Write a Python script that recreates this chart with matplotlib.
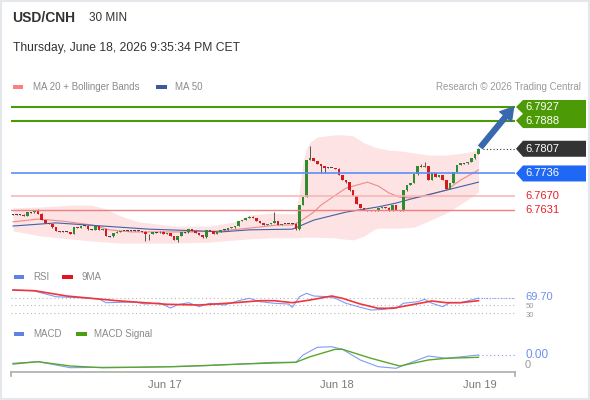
import matplotlib
matplotlib.use("Agg")
import matplotlib.pyplot as plt
from matplotlib.patches import Rectangle, Polygon
import numpy as np

plt.rcParams['font.family'] = ['Liberation Sans', 'DejaVu Sans']

# ---- values: USD/CNH, 30 min candles ----
first_open = 6.7618
closes = [
    6.7618, 6.7617, 6.7618, 6.7615, 6.7625, 6.7624, 6.7628, 6.7620, 6.7602, 6.7594,
    6.7591, 6.7581, 6.7571, 6.7569, 6.7569, 6.7568, 6.7562, 6.7582, 6.7579, 6.7585,
    6.7586, 6.7576, 6.7575, 6.7585, 6.7574, 6.7576, 6.7556, 6.7555, 6.7565, 6.7569,
    6.7571, 6.7571, 6.7572, 6.7571, 6.7572, 6.7571, 6.7569, 6.7562, 6.7562, 6.7568,
    6.7567, 6.7569, 6.7562, 6.7565, 6.7556, 6.7545, 6.7556, 6.7568, 6.7567, 6.7576,
    6.7571, 6.7565, 6.7559, 6.7553, 6.7574, 6.7571, 6.7562, 6.7568, 6.7574, 6.7575,
    6.7579, 6.7581, 6.7585, 6.7599, 6.7602, 6.7608, 6.7612, 6.7608, 6.7599, 6.7594,
    6.7588, 6.7591, 6.7594, 6.7599, 6.7588, 6.7591, 6.7591, 6.7591, 6.7592, 6.7576,
    6.7645, 6.7668, 6.7775, 6.7780, 6.7772, 6.7763, 6.7757, 6.7753, 6.7752, 6.7752,
    6.7750, 6.7732, 6.7717, 6.7711, 6.7688, 6.7671, 6.7648, 6.7637, 6.7631, 6.7628,
    6.7630, 6.7628, 6.7637, 6.7640, 6.7638, 6.7628, 6.7645, 6.7631, 6.7628, 6.7688,
    6.7703, 6.7709, 6.7734, 6.7757, 6.7755, 6.7757, 6.7717, 6.7737, 6.7726, 6.7732,
    6.7717, 6.7691, 6.7709, 6.7740, 6.7760, 6.7766, 6.7765, 6.7769, 6.7780, 6.7792,
    6.7807,
]
wick_highs = {7: 6.7634, 73: 6.7625, 83: 6.7815, 114: 6.7763, 115: 6.7769}
wick_lows = {37: 6.7542, 38: 6.7545, 46: 6.7539, 86: 6.7737, 87: 6.7737}

bb_idx = [0, 8, 16, 22, 26, 30, 35, 45, 55, 62, 66, 72, 78, 79, 80, 81, 82, 83, 85, 90,
          92, 95, 98, 101, 102, 105, 108, 112, 116, 121, 126, 130]
bb_upper = [6.7637, 6.7640, 6.7645, 6.7645, 6.7634, 6.7614, 6.7597, 6.7585, 6.7585, 6.7597,
            6.7617, 6.7622, 6.7620, 6.7622, 6.7688, 6.7769, 6.7809, 6.7826, 6.7841, 6.7847,
            6.7847, 6.7844, 6.7824, 6.7812, 6.7809, 6.7803, 6.7801, 6.7795, 6.7789, 6.7789,
            6.7795, 6.7803]
bb_lower = [6.7571, 6.7556, 6.7548, 6.7542, 6.7539, 6.7536, 6.7536, 6.7536, 6.7539, 6.7545,
            6.7548, 6.7551, 6.7551, 6.7551, 6.7551, 6.7553, 6.7553, 6.7553, 6.7553, 6.7551,
            6.7548, 6.7545, 6.7556, 6.7576, 6.7579, 6.7579, 6.7579, 6.7582, 6.7599, 6.7622,
            6.7654, 6.7683]

ma20_idx = [0, 7, 14, 22, 27, 33, 50, 58, 66, 74, 78, 80, 84, 86, 93, 99, 102, 105, 108,
            112, 116, 121, 125, 130]
ma20 = [6.7597, 6.7605, 6.7599, 6.7588, 6.7574, 6.7568, 6.7568, 6.7571, 6.7579, 6.7588,
        6.7588, 6.7597, 6.7625, 6.7645, 6.7694, 6.7711, 6.7700, 6.7680, 6.7668, 6.7665,
        6.7674, 6.7688, 6.7717, 6.7746]
ma50_idx = [0, 12, 25, 38, 52, 58, 66, 78, 84, 93, 102, 107, 112, 121, 130]
ma50 = [6.7585, 6.7594, 6.7585, 6.7576, 6.7571, 6.7568, 6.7574, 6.7576, 6.7602, 6.7625,
        6.7640, 6.7651, 6.7665, 6.7688, 6.7711]

resistances = [6.7927, 6.7888]
pivot = 6.7736
supports = [6.7670, 6.7631]
last_price = 6.7807

rsi_idx = [0, 6, 8, 12, 20, 24, 26, 34, 37, 41, 44, 46, 49, 52, 55, 59, 63, 66, 69, 73,
           77, 78, 80, 82, 84, 88, 90, 93, 97, 100, 104, 106, 107, 109, 113, 115, 117, 120,
           122, 125, 128, 130]
rsi = [91.3, 89.0, 83.3, 73.5, 70.0, 67.3, 57.5, 59.3, 54.0, 56.7, 43.3, 52.1, 57.5, 46.8,
       55.9, 51.3, 62.8, 69.2, 60.1, 55.9, 54.0, 45.2, 73.5, 82.5, 75.3, 73.5, 69.2, 55.9,
       45.2, 38.0, 39.9, 45.2, 42.5, 55.9, 60.1, 66.5, 55.9, 46.8, 57.5, 57.5, 64.7, 69.7]
rsi_ma_idx = [0, 6, 15, 24, 29, 34, 43, 52, 61, 69, 73, 78, 83, 89, 92, 97, 102, 106, 111,
              117, 121, 125, 130]
rsi_ma = [91.3, 89.5, 75.3, 67.3, 62.8, 59.3, 53.2, 51.3, 56.7, 62.8, 62.8, 57.5, 64.7,
          75.3, 69.2, 54.0, 42.5, 42.5, 51.3, 62.0, 57.5, 57.5, 62.8]
rsi_last = 69.70
rsi_levels = [70, 50, 30]

macd_idx = [0, 7, 16, 25, 35, 54, 64, 73, 79, 81, 85, 89, 92, 97, 102, 107, 111, 116, 121, 130]
macd = [0.85e-4, 1.65e-4, -1.35e-4, -1.15e-4, -1.15e-4, -0.35e-4, 0.5e-4, 1.35e-4, 1.35e-4,
        5.0e-4, 8.85e-4, 9.15e-4, 7.85e-4, 2.5e-4, -0.85e-4, -1.65e-4, 1.15e-4, 4.5e-4,
        3.35e-4, 5.0e-4]
signal_idx = [0, 7, 16, 25, 45, 64, 79, 83, 90, 92, 100, 108, 116, 121, 130]
signal = [0.5e-4, 1.65e-4, -0.5e-4, -1.35e-4, -0.85e-4, 0.5e-4, 1.35e-4, 4.15e-4, 7.85e-4,
          7.85e-4, 3.35e-4, -0.5e-4, 2.5e-4, 3.35e-4, 3.85e-4]
macd_last = 5.0e-4

day_ticks = [42.5, 90.5, 130.4]
day_labels = ['Jun 17', 'Jun 18', 'Jun 19']

W, H = 590, 400
XL = (-0.56, 140.2)
fig = plt.figure(figsize=(W / 100, H / 100), dpi=100)
fig.patch.set_facecolor('white')


def panel(x0, y0, x1, y1):
    # box given in image pixels (top-left origin)
    ax = fig.add_axes([x0 / W, 1 - y1 / H, (x1 - x0) / W, (y1 - y0) / H])
    ax.set_facecolor('none')
    for s in ax.spines.values():
        s.set_visible(False)
    ax.set_xticks([])
    ax.set_yticks([])
    ax.set_xlim(*XL)
    return ax


def img_y(ax, v):
    return H - ax.transData.transform((0, v))[1]


green_c, red_c = '#2e8b2e', '#d7191c'
lvl_green = '#4c9a06'

# ---- price panel ----
pax = panel(11, 100, 515, 250)
pax.set_ylim(6.75161, 6.79471)
pax.fill_between(bb_idx, bb_lower, bb_upper, color='#fde3e3', lw=0, zorder=1)
pax.plot(ma20_idx, ma20, color='#f08a8a', lw=0.8, zorder=2)
pax.plot(ma50_idx, ma50, color='#3f62a8', lw=0.8, zorder=2)

c = np.array(closes)
o = np.r_[first_open, c[:-1]]
idx = np.arange(len(c))
hi = np.maximum(o, c) + 0.0001
lo = np.minimum(o, c) - 0.0001
for k, v in wick_highs.items():
    hi[k] = v
for k, v in wick_lows.items():
    lo[k] = v
doji = np.abs(c - o) < 0.00015
body_h = np.where(doji, 0.00025, np.abs(c - o))
body_b = np.where(doji, (o + c) / 2 - 0.000125, np.minimum(o, c))
cols = np.where(doji, '#444444', np.where(c > o, green_c, red_c))
pax.vlines(idx, lo, hi, color='#555555', lw=0.7, zorder=4)
pax.bar(idx, body_h, bottom=body_b, width=0.72, color=cols, lw=0, zorder=5)

for r in resistances:
    pax.axhline(r, color=lvl_green, lw=1.5, zorder=6)
pax.axhline(pivot, color='#5b8ef5', lw=1.2, zorder=6)
pax.axhline(supports[0], color='#f7b3b3', lw=1.1, zorder=6)
pax.axhline(supports[1], color='#f07f7f', lw=1.0, zorder=6)
pax.hlines(last_price, len(c) + 0.3, XL[1], colors='#333333', linestyles=(0, (1, 2)), lw=0.8)
pax.annotate('', xy=(139.8, resistances[0]), xytext=(130.6, last_price + 0.0005),
             arrowprops=dict(arrowstyle='simple,head_width=1.1,head_length=0.9,tail_width=0.35',
                             color='#3868ad', mutation_scale=10, shrinkA=0, shrinkB=0),
             annotation_clip=False, zorder=7)

# ---- RSI panel ----
rax = panel(11, 285, 515, 320)
rax.set_ylim(11.3, 104.7)
for v in rsi_levels:
    rax.axhline(v, color='#b8b8b8', lw=0.8, ls=(0, (1, 2.5)))
rax.plot(rsi_idx, rsi, color='#7f9cf5', lw=0.8)
rax.plot(rsi_ma_idx, rsi_ma, color='#f0353b', lw=1.2)
rax.hlines(rsi_last, rsi_idx[-1], XL[1], colors='#7f9cf5', linestyles=(0, (1, 1.5)), lw=0.8)

# ---- MACD panel ----
mx = panel(11, 340, 515, 372)
mx.set_ylim(-0.00035, 0.00125)
mx.plot(macd_idx, macd, color='#7f9cf5', lw=0.8)
mx.plot(signal_idx, signal, color='#5aa628', lw=1.0)
mx.hlines(macd_last, macd_idx[-1], XL[1], colors='#7f9cf5', linestyles=(0, (1, 2.5)), lw=0.8)
mx.spines['bottom'].set_visible(True)
mx.spines['bottom'].set_color('#b3b3b3')
mx.spines['bottom'].set_linewidth(1.3)
mx.set_xticks(day_ticks, day_labels)
mx.tick_params(axis='x', length=0, pad=5.5, labelsize=8, labelcolor='#7a7a7a')

# ---- overlay: header, legends and level labels (image pixel coords) ----
ov = fig.add_axes([0, 0, 1, 1])
ov.set_xlim(0, W)
ov.set_ylim(H, 0)
ov.axis('off')
ov.patch.set_visible(False)

ov.add_patch(Rectangle((0.75, 0.75), W - 1.5, H - 1.5, fill=False, ec='#e4e7eb', lw=1.5))
ov.plot([11, 11], [371.5, 376], color='#b3b3b3', lw=1.3)
ov.plot([515, 515], [371.5, 376], color='#b3b3b3', lw=1.3)

ov.text(12, 18, 'USD/CNH', fontsize=10, weight='bold', color='#333333', va='center')
ov.text(89, 18, '30 MIN', fontsize=8.5, color='#333333', va='center')
ov.text(13, 48, 'Thursday, June 18, 2026 9:35:34 PM CET', fontsize=8.7, color='#333333',
        va='center')

legend_txt = dict(fontsize=7, color='#8a8a8a', va='center')
ov.add_patch(Rectangle((13, 84.5), 10, 4, color='#ff7f7f', lw=0))
ov.text(33, 86.5, 'MA 20 + Bollinger Bands', **legend_txt)
ov.add_patch(Rectangle((156, 84.5), 11, 4, color='#3a5b98', lw=0))
ov.text(175, 86.5, 'MA 50', **legend_txt)
ov.text(581, 86.5, 'Research \u00a9 2026 Trading Central', fontsize=7, color='#9a9a9a',
        va='center', ha='right')

ov.add_patch(Rectangle((14, 275), 10, 4, color='#5f82e6', lw=0))
ov.text(33, 277, 'RSI', **legend_txt)
ov.add_patch(Rectangle((62, 275), 11, 4, color='#e8141c', lw=0))
ov.text(82, 277, '9MA', **legend_txt)
ov.add_patch(Rectangle((14, 332), 10, 4, color='#5f82e6', lw=0))
ov.text(33, 334, 'MACD', **legend_txt)
ov.add_patch(Rectangle((76, 332), 11, 4, color='#4a9e12', lw=0))
ov.text(94, 334, 'MACD Signal', **legend_txt)

lab = dict(fontsize=8, va='center', ha='left')
y1, y2 = img_y(pax, resistances[0]), img_y(pax, resistances[1])
ov.add_patch(Polygon([(586, y1 - 7), (523, y1 - 7), (516, y1), (523, (y1 + y2) / 2),
                      (516, y2), (523, y2 + 7.5), (586, y2 + 7.5)], closed=True,
                     fc=lvl_green, ec='none'))
ov.text(525, y1, f'{resistances[0]:.4f}', color='white', **lab)
ov.text(525, y2, f'{resistances[1]:.4f}', color='white', **lab)


def tag(value, ax, fc):
    yc = img_y(ax, value)
    ov.add_patch(Polygon([(516, yc), (523, yc - 8), (586, yc - 8), (586, yc + 8), (523, yc + 8)],
                         closed=True, fc=fc, ec='none'))
    ov.text(525, yc, f'{value:.4f}', color='white', **lab)


tag(last_price, pax, '#333333')
tag(pivot, pax, '#1f68f5')
for s in supports:
    ov.text(525, img_y(pax, s), f'{s:.4f}', color='#e8202a', **lab)

# RSI scale labels: 50 and 30 sit tight under the current value, keep them small
small = dict(fontsize=5.5, va='center', ha='left', color='#9a9a9a')
ov.text(526, img_y(rax, 50) + 1.5, '50', **small)
ov.text(526, img_y(rax, 30) + 3, '30', **small)
ov.text(525, img_y(rax, rsi_last) - 1, f'{rsi_last:.2f}', color='#6d8ff0', fontsize=8,
        va='center', ha='left')
ov.text(525, img_y(mx, 0), '0', color='#9a9a9a', **lab)
ov.text(525, img_y(mx, macd_last), f'{macd_last:.2f}', color='#6d8ff0', fontsize=8.5,
        va='center', ha='left')

fig.savefig('out.png', dpi=100)
